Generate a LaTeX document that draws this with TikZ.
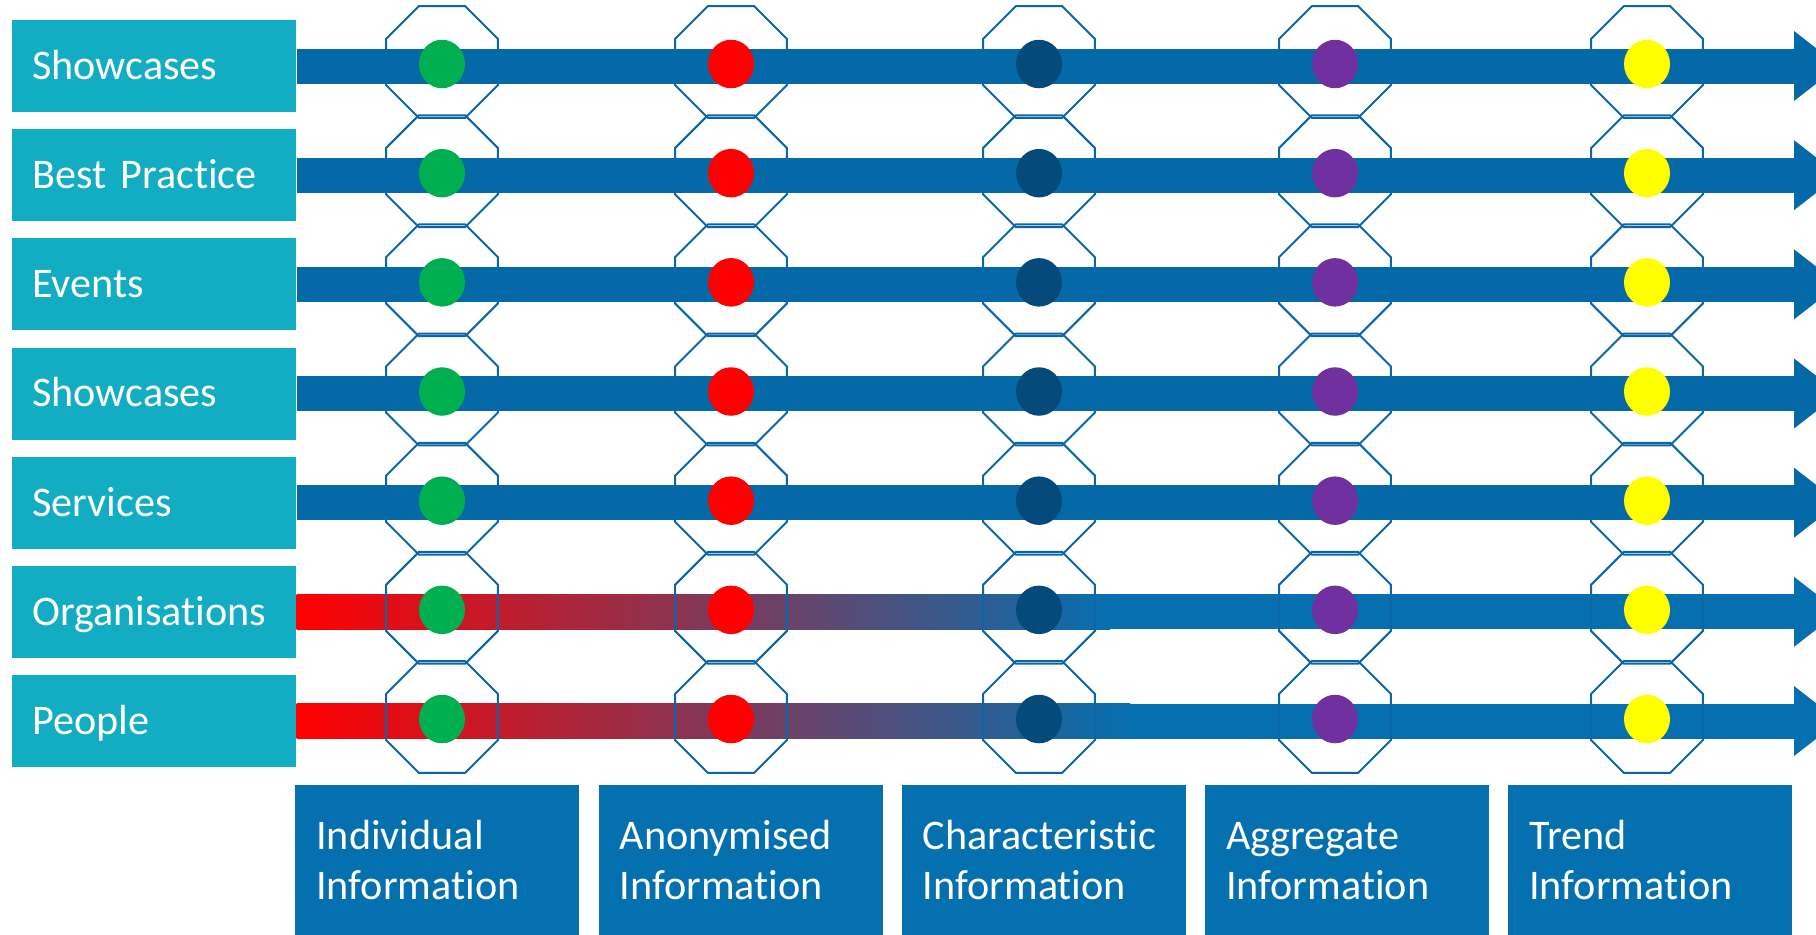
\documentclass[tikz,border=0pt]{standalone}
\usepackage{fontspec}
\setmainfont{Carlito}[Ligatures=NoCommon]
\usetikzlibrary{arrows.meta, calc, shapes.geometric}

\definecolor{rowteal}{HTML}{12ADC2}
\definecolor{barblue}{HTML}{0569A7}
\definecolor{fadeblue}{HTML}{066FAF}
\definecolor{infoblue}{HTML}{0570B0}
\definecolor{octblue}{HTML}{0A66AA}
\definecolor{dotgreen}{HTML}{00B050}
\definecolor{dotred}{HTML}{FF0000}
\definecolor{dotnavy}{HTML}{044A7A}
\definecolor{dotpurple}{HTML}{7030A0}
\definecolor{dotyellow}{HTML}{FFFF00}

\begin{document}
\begin{tikzpicture}[
    x=0.02cm, y=-0.02cm,
    rowlabel/.style={rectangle, fill=rowteal, text=white, anchor=west,
        minimum width=5.68cm, minimum height=1.84cm, text width=4.88cm,
        inner xsep=0.4cm, align=left, text height=0.535cm, text depth=0pt,
        font=\fontsize{24}{28.45}\selectfont},
    infobox/.style={rectangle, fill=infoblue, text=white, anchor=north west,
        minimum width=5.68cm, text width=4.84cm, inner xsep=0.42cm, inner ysep=0.74cm,
        align=left, text height=0.535cm, text depth=1cm,
        font=\fontsize{24}{28.45}\selectfont},
    bar/.style={line width=0.7cm, -{Triangle[length=0.9cm, width=1.4cm, line width=0pt]}},
    octo/.style={regular polygon, regular polygon sides=8, minimum size=2.42cm,
        inner sep=0pt, draw=octblue, line width=0.04cm},
    dot/.style={ellipse, minimum width=0.92cm, minimum height=0.97cm, inner sep=0pt},
]

% ---- Layout ----
\def\ytop{66}
\def\ypitch{109.17}
\def\xend{1839}

\useasboundingbox (0,0) rectangle (1816,934);

% ---- Row labels ----
\foreach \r/\txt in {1/Showcases, 2/Best Practice, 3/Events, 4/Showcases,
                      5/Services, 6/Organisations, 7/People} {
    \node[rowlabel] (lbl\r) at (12, {\ytop+(\r-1)*\ypitch}) {\txt};
    \coordinate (end\r) at (\xend, {\ytop+(\r-1)*\ypitch});
}

% ---- Arrows ----
\foreach \r in {1,...,5} {
    \draw[bar, barblue] (lbl\r.east) -- (end\r);
}
% red fading into blue
\foreach \r/\xf in {6/1110, 7/1130} {
    \coordinate (fade\r) at (\xf, {\ytop+(\r-1)*\ypitch});
    \draw[bar, fadeblue] (lbl\r.east) -- (end\r);
    \shade[left color=red, right color=fadeblue]
        ($(lbl\r.east)+(0,-17.2)$) rectangle ($(fade\r)+(0,17.2)$);
}

% ---- Octagons and dots ----
\foreach \c/\xc/\col in {1/442/dotgreen, 2/731/dotred, 3/1039/dotnavy,
                         4/1335/dotpurple, 5/1647/dotyellow} {
    \foreach \r in {1,...,7} {
        \node[octo] (oct-\r-\c) at (\xc, {\ytop+(\r-1)*\ypitch-4}) {};
        \node[dot, fill=\col] (dot-\r-\c) at (\xc, {\ytop+(\r-1)*\ypitch-2}) {};
    }
}

% ---- Information levels ----
\foreach \c/\txt in {1/Individual, 2/Anonymised, 3/Characteristic,
                     4/Aggregate, 5/Trend} {
    \node[infobox] (info\c) at ({295+(\c-1)*303.25}, 785) {\txt\\Information};
}

\end{tikzpicture}
\end{document}
